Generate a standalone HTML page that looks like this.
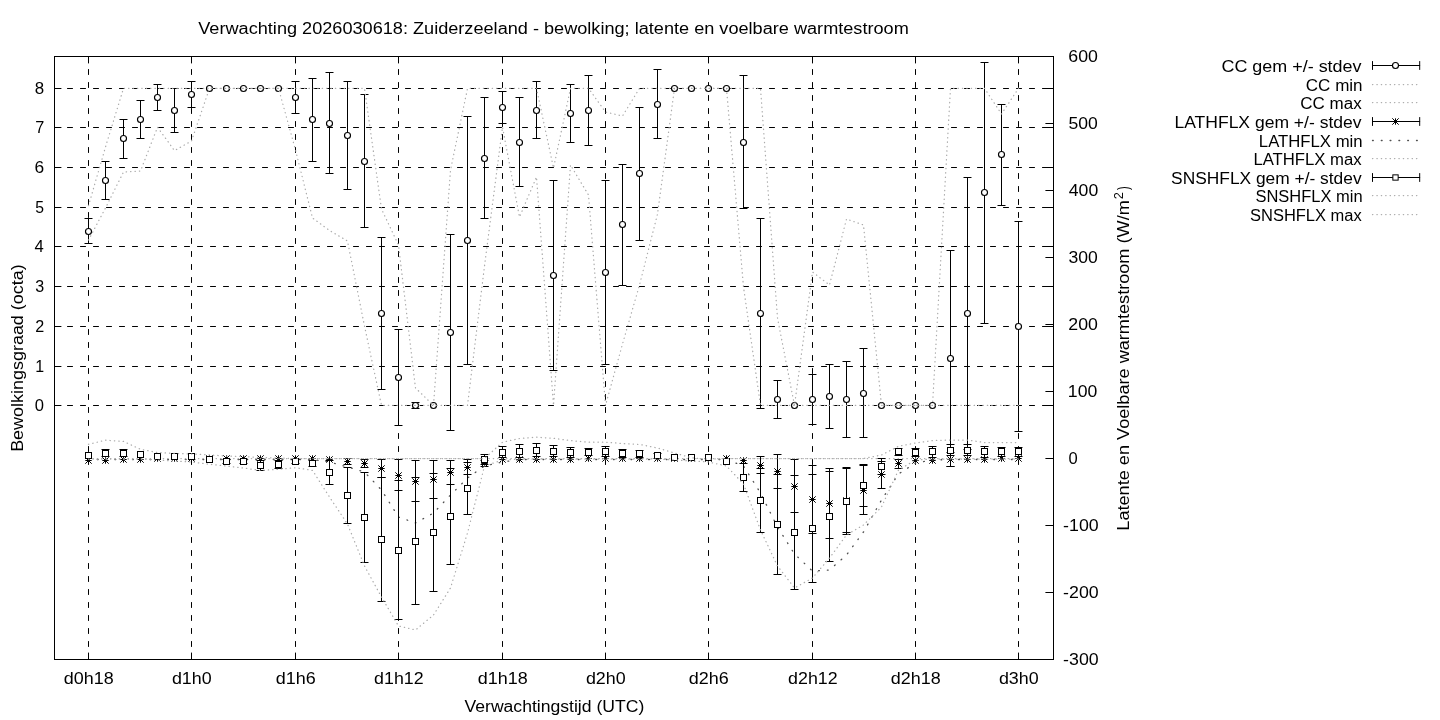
<!DOCTYPE html><html><head><meta charset="utf-8"><style>html,body{margin:0;padding:0;background:#fff;overflow:hidden}</style></head><body><svg width="1440" height="720" viewBox="0 0 1440 720" style="display:block;will-change:transform">
<rect width="1440" height="720" fill="#fff"/>
<path d="M54.5,405.50H1053.5M54.5,366.50H1053.5M54.5,326.50H1053.5M54.5,286.50H1053.5M54.5,246.50H1053.5M54.5,207.50H1053.5M54.5,167.50H1053.5M54.5,127.50H1053.5M54.5,88.50H1053.5" stroke="#000" stroke-width="1.0" fill="none" stroke-dasharray="5 8" stroke-linecap="round"/>
<path d="M88.50,56.5V659.5M191.50,56.5V659.5M295.50,56.5V659.5M398.50,56.5V659.5M502.50,56.5V659.5M605.50,56.5V659.5M708.50,56.5V659.5M812.50,56.5V659.5M915.50,56.5V659.5M1018.50,56.5V659.5" stroke="#000" stroke-width="1.0" fill="none" stroke-dasharray="5 8" stroke-linecap="round"/>
<path d="M54.5,405.50h6.5M1053.5,405.50h-6.5M54.5,366.50h6.5M1053.5,366.50h-6.5M54.5,326.50h6.5M1053.5,326.50h-6.5M54.5,286.50h6.5M1053.5,286.50h-6.5M54.5,246.50h6.5M1053.5,246.50h-6.5M54.5,207.50h6.5M1053.5,207.50h-6.5M54.5,167.50h6.5M1053.5,167.50h-6.5M54.5,127.50h6.5M1053.5,127.50h-6.5M54.5,88.50h6.5M1053.5,88.50h-6.5M88.50,659.5v-6.5M88.50,56.5v6.5M191.50,659.5v-6.5M191.50,56.5v6.5M295.50,659.5v-6.5M295.50,56.5v6.5M398.50,659.5v-6.5M398.50,56.5v6.5M502.50,659.5v-6.5M502.50,56.5v6.5M605.50,659.5v-6.5M605.50,56.5v6.5M708.50,659.5v-6.5M708.50,56.5v6.5M812.50,659.5v-6.5M812.50,56.5v6.5M915.50,659.5v-6.5M915.50,56.5v6.5M1018.50,659.5v-6.5M1018.50,56.5v6.5M1053.5,659.50h-7.7M1053.5,592.50h-7.7M1053.5,525.50h-7.7M1053.5,458.50h-7.7M1053.5,391.50h-7.7M1053.5,324.50h-7.7M1053.5,257.50h-7.7M1053.5,190.50h-7.7M1053.5,123.50h-7.7M1053.5,56.50h-7.7" stroke="#000" stroke-width="1.0" fill="none" stroke-linecap="round"/>
<path d="M88.50,218.50V243.50M84.90,218.50h7.2M84.90,243.50h7.2M105.50,161.50V199.50M101.90,161.50h7.2M101.90,199.50h7.2M123.50,119.50V158.50M119.90,119.50h7.2M119.90,158.50h7.2M140.50,100.50V138.50M136.90,100.50h7.2M136.90,138.50h7.2M157.50,84.50V110.50M153.90,84.50h7.2M153.90,110.50h7.2M174.50,88.50V132.50M170.90,88.50h7.2M170.90,132.50h7.2M191.50,81.50V107.50M187.90,81.50h7.2M187.90,107.50h7.2M295.50,81.50V113.50M291.90,81.50h7.2M291.90,113.50h7.2M312.50,78.50V161.50M308.90,78.50h7.2M308.90,161.50h7.2M329.50,72.50V173.50M325.90,72.50h7.2M325.90,173.50h7.2M347.50,81.50V189.50M343.90,81.50h7.2M343.90,189.50h7.2M364.50,94.50V227.50M360.90,94.50h7.2M360.90,227.50h7.2M381.50,237.50V389.50M377.90,237.50h7.2M377.90,389.50h7.2M398.50,329.50V425.50M394.90,329.50h7.2M394.90,425.50h7.2M415.50,402.50V408.50M411.90,402.50h7.2M411.90,408.50h7.2M450.50,234.50V430.50M446.90,234.50h7.2M446.90,430.50h7.2M467.50,116.50V364.50M463.90,116.50h7.2M463.90,364.50h7.2M484.50,97.50V218.50M480.90,97.50h7.2M480.90,218.50h7.2M502.50,91.50V123.50M498.90,91.50h7.2M498.90,123.50h7.2M519.50,97.50V186.50M515.90,97.50h7.2M515.90,186.50h7.2M536.50,81.50V138.50M532.90,81.50h7.2M532.90,138.50h7.2M553.50,180.50V370.50M549.90,180.50h7.2M549.90,370.50h7.2M570.50,84.50V142.50M566.90,84.50h7.2M566.90,142.50h7.2M588.50,75.50V145.50M584.90,75.50h7.2M584.90,145.50h7.2M605.50,180.50V364.50M601.90,180.50h7.2M601.90,364.50h7.2M622.50,164.50V285.50M618.90,164.50h7.2M618.90,285.50h7.2M639.50,107.50V240.50M635.90,107.50h7.2M635.90,240.50h7.2M657.50,69.50V138.50M653.90,69.50h7.2M653.90,138.50h7.2M743.50,75.50V208.50M739.90,75.50h7.2M739.90,208.50h7.2M760.50,218.50V408.50M756.90,218.50h7.2M756.90,408.50h7.2M777.50,380.50V418.50M773.90,380.50h7.2M773.90,418.50h7.2M812.50,374.50V424.50M808.90,374.50h7.2M808.90,424.50h7.2M829.50,364.50V428.50M825.90,364.50h7.2M825.90,428.50h7.2M846.50,361.50V437.50M842.90,361.50h7.2M842.90,437.50h7.2M863.50,348.50V437.50M859.90,348.50h7.2M859.90,437.50h7.2M950.50,250.50V466.50M946.90,250.50h7.2M946.90,466.50h7.2M967.50,177.50V449.50M963.90,177.50h7.2M963.90,449.50h7.2M984.50,62.50V323.50M980.90,62.50h7.2M980.90,323.50h7.2M1001.50,104.50V205.50M997.90,104.50h7.2M997.90,205.50h7.2M1018.50,221.50V431.50M1014.90,221.50h7.2M1014.90,431.50h7.2" stroke="#000" stroke-width="1.0" fill="none" stroke-linecap="round"/>
<g fill="#fff" stroke="#000" stroke-width="1.15"><circle cx="88.50" cy="231.50" r="3.0"/><circle cx="105.50" cy="180.50" r="3.0"/><circle cx="123.50" cy="138.50" r="3.0"/><circle cx="140.50" cy="119.50" r="3.0"/><circle cx="157.50" cy="97.50" r="3.0"/><circle cx="174.50" cy="110.50" r="3.0"/><circle cx="191.50" cy="94.50" r="3.0"/><circle cx="209.50" cy="88.50" r="3.0"/><circle cx="226.50" cy="88.50" r="3.0"/><circle cx="243.50" cy="88.50" r="3.0"/><circle cx="260.50" cy="88.50" r="3.0"/><circle cx="278.50" cy="88.50" r="3.0"/><circle cx="295.50" cy="97.50" r="3.0"/><circle cx="312.50" cy="119.50" r="3.0"/><circle cx="329.50" cy="123.50" r="3.0"/><circle cx="347.50" cy="135.50" r="3.0"/><circle cx="364.50" cy="161.50" r="3.0"/><circle cx="381.50" cy="313.50" r="3.0"/><circle cx="398.50" cy="377.50" r="3.0"/><circle cx="415.50" cy="405.50" r="3.0"/><circle cx="433.50" cy="405.50" r="3.0"/><circle cx="450.50" cy="332.50" r="3.0"/><circle cx="467.50" cy="240.50" r="3.0"/><circle cx="484.50" cy="158.50" r="3.0"/><circle cx="502.50" cy="107.50" r="3.0"/><circle cx="519.50" cy="142.50" r="3.0"/><circle cx="536.50" cy="110.50" r="3.0"/><circle cx="553.50" cy="275.50" r="3.0"/><circle cx="570.50" cy="113.50" r="3.0"/><circle cx="588.50" cy="110.50" r="3.0"/><circle cx="605.50" cy="272.50" r="3.0"/><circle cx="622.50" cy="224.50" r="3.0"/><circle cx="639.50" cy="173.50" r="3.0"/><circle cx="657.50" cy="104.50" r="3.0"/><circle cx="674.50" cy="88.50" r="3.0"/><circle cx="691.50" cy="88.50" r="3.0"/><circle cx="708.50" cy="88.50" r="3.0"/><circle cx="726.50" cy="88.50" r="3.0"/><circle cx="743.50" cy="142.50" r="3.0"/><circle cx="760.50" cy="313.50" r="3.0"/><circle cx="777.50" cy="399.50" r="3.0"/><circle cx="794.50" cy="405.50" r="3.0"/><circle cx="812.50" cy="399.50" r="3.0"/><circle cx="829.50" cy="396.50" r="3.0"/><circle cx="846.50" cy="399.50" r="3.0"/><circle cx="863.50" cy="393.50" r="3.0"/><circle cx="881.50" cy="405.50" r="3.0"/><circle cx="898.50" cy="405.50" r="3.0"/><circle cx="915.50" cy="405.50" r="3.0"/><circle cx="932.50" cy="405.50" r="3.0"/><circle cx="950.50" cy="358.50" r="3.0"/><circle cx="967.50" cy="313.50" r="3.0"/><circle cx="984.50" cy="192.50" r="3.0"/><circle cx="1001.50" cy="154.50" r="3.0"/><circle cx="1018.50" cy="326.50" r="3.0"/></g>
<polyline points="88.50,240.00 105.50,208.00 123.50,172.00 140.50,171.00 157.50,127.20 174.50,150.60 191.50,141.00 209.50,88.30 226.50,88.30 243.50,88.30 260.50,88.30 278.50,88.30 295.50,150.00 312.50,218.00 329.50,230.50 347.50,241.00 364.50,326.00 381.50,405.40 398.50,405.40 415.50,405.40 433.50,405.40 450.50,405.40 467.50,405.40 484.50,266.00 502.50,127.00 519.50,217.00 536.50,177.00 553.50,405.40 570.50,165.00 588.50,195.00 605.50,405.40 622.50,344.00 639.50,285.00 657.50,214.00 674.50,88.30 691.50,88.30 708.50,88.30 726.50,88.30 743.50,287.00 760.50,405.40 777.50,405.40 794.50,405.40 812.50,405.40 829.50,405.40 846.50,405.40 863.50,405.40 881.50,405.40 898.50,405.40 915.50,405.40 932.50,405.40 950.50,405.40 967.50,405.40 984.50,405.40 1001.50,405.40 1018.50,405.40" fill="none" stroke="#aaaaaa" stroke-width="1.25" stroke-dasharray="0.35 4.05" stroke-linecap="round" stroke-linejoin="round"/>
<polyline points="88.50,205.70 105.50,147.00 123.50,88.30 140.50,88.30 157.50,88.30 174.50,88.30 191.50,88.30 209.50,88.30 226.50,88.30 243.50,88.30 260.50,88.30 278.50,88.30 295.50,88.30 312.50,88.30 329.50,88.30 347.50,88.30 364.50,88.30 381.50,209.00 398.50,245.00 415.50,388.00 433.50,405.40 450.50,170.00 467.50,88.30 484.50,88.30 502.50,88.30 519.50,88.30 536.50,88.30 553.50,168.00 570.50,88.30 588.50,88.30 605.50,112.00 622.50,116.00 639.50,88.30 657.50,88.30 674.50,88.30 691.50,88.30 708.50,88.30 726.50,88.30 743.50,88.30 760.50,88.30 777.50,318.00 794.50,405.40 812.50,272.00 829.50,285.00 846.50,219.00 863.50,225.00 881.50,405.40 898.50,405.40 915.50,405.40 932.50,405.40 950.50,88.30 967.50,88.30 984.50,88.30 1001.50,114.00 1018.50,88.30" fill="none" stroke="#aaaaaa" stroke-width="1.25" stroke-dasharray="0.35 4.05" stroke-linecap="round" stroke-linejoin="round"/>
<path d="M347.50,458.50V464.50M343.90,458.50h7.2M343.90,464.50h7.2M364.50,459.50V467.50M360.90,459.50h7.2M360.90,467.50h7.2M381.50,459.50V477.50M377.90,459.50h7.2M377.90,477.50h7.2M398.50,459.50V490.50M394.90,459.50h7.2M394.90,490.50h7.2M415.50,460.50V501.50M411.90,460.50h7.2M411.90,501.50h7.2M433.50,460.50V498.50M429.90,460.50h7.2M429.90,498.50h7.2M450.50,460.50V484.50M446.90,460.50h7.2M446.90,484.50h7.2M467.50,459.50V474.50M463.90,459.50h7.2M463.90,474.50h7.2M484.50,460.50V466.50M480.90,460.50h7.2M480.90,466.50h7.2M760.50,456.50V473.50M756.90,456.50h7.2M756.90,473.50h7.2M777.50,454.50V488.50M773.90,454.50h7.2M773.90,488.50h7.2M794.50,459.50V512.50M790.90,459.50h7.2M790.90,512.50h7.2M812.50,465.50V533.50M808.90,465.50h7.2M808.90,533.50h7.2M829.50,468.50V538.50M825.90,468.50h7.2M825.90,538.50h7.2M846.50,468.50V532.50M842.90,468.50h7.2M842.90,532.50h7.2M863.50,465.50V514.50M859.90,465.50h7.2M859.90,514.50h7.2M881.50,461.50V488.50M877.90,461.50h7.2M877.90,488.50h7.2M898.50,459.50V468.50M894.90,459.50h7.2M894.90,468.50h7.2M950.50,452.50V466.50M946.90,452.50h7.2M946.90,466.50h7.2" stroke="#000" stroke-width="1.0" fill="none" stroke-linecap="round"/>
<path d="M85.30,460.50h6.4M88.50,457.30v6.4M85.30,457.30l6.4,6.4M85.30,463.70l6.4,-6.4M102.30,460.50h6.4M105.50,457.30v6.4M102.30,457.30l6.4,6.4M102.30,463.70l6.4,-6.4M120.30,459.50h6.4M123.50,456.30v6.4M120.30,456.30l6.4,6.4M120.30,462.70l6.4,-6.4M137.30,459.50h6.4M140.50,456.30v6.4M137.30,456.30l6.4,6.4M137.30,462.70l6.4,-6.4M154.30,458.50h6.4M157.50,455.30v6.4M154.30,455.30l6.4,6.4M154.30,461.70l6.4,-6.4M171.30,458.50h6.4M174.50,455.30v6.4M171.30,455.30l6.4,6.4M171.30,461.70l6.4,-6.4M188.30,458.50h6.4M191.50,455.30v6.4M188.30,455.30l6.4,6.4M188.30,461.70l6.4,-6.4M206.30,458.50h6.4M209.50,455.30v6.4M206.30,455.30l6.4,6.4M206.30,461.70l6.4,-6.4M223.30,458.50h6.4M226.50,455.30v6.4M223.30,455.30l6.4,6.4M223.30,461.70l6.4,-6.4M240.30,458.50h6.4M243.50,455.30v6.4M240.30,455.30l6.4,6.4M240.30,461.70l6.4,-6.4M257.30,458.50h6.4M260.50,455.30v6.4M257.30,455.30l6.4,6.4M257.30,461.70l6.4,-6.4M275.30,458.50h6.4M278.50,455.30v6.4M275.30,455.30l6.4,6.4M275.30,461.70l6.4,-6.4M292.30,458.50h6.4M295.50,455.30v6.4M292.30,455.30l6.4,6.4M292.30,461.70l6.4,-6.4M309.30,458.50h6.4M312.50,455.30v6.4M309.30,455.30l6.4,6.4M309.30,461.70l6.4,-6.4M326.30,459.50h6.4M329.50,456.30v6.4M326.30,456.30l6.4,6.4M326.30,462.70l6.4,-6.4M344.30,461.50h6.4M347.50,458.30v6.4M344.30,458.30l6.4,6.4M344.30,464.70l6.4,-6.4M361.30,463.50h6.4M364.50,460.30v6.4M361.30,460.30l6.4,6.4M361.30,466.70l6.4,-6.4M378.30,468.50h6.4M381.50,465.30v6.4M378.30,465.30l6.4,6.4M378.30,471.70l6.4,-6.4M395.30,475.50h6.4M398.50,472.30v6.4M395.30,472.30l6.4,6.4M395.30,478.70l6.4,-6.4M412.30,481.50h6.4M415.50,478.30v6.4M412.30,478.30l6.4,6.4M412.30,484.70l6.4,-6.4M430.30,479.50h6.4M433.50,476.30v6.4M430.30,476.30l6.4,6.4M430.30,482.70l6.4,-6.4M447.30,472.50h6.4M450.50,469.30v6.4M447.30,469.30l6.4,6.4M447.30,475.70l6.4,-6.4M464.30,467.50h6.4M467.50,464.30v6.4M464.30,464.30l6.4,6.4M464.30,470.70l6.4,-6.4M481.30,463.50h6.4M484.50,460.30v6.4M481.30,460.30l6.4,6.4M481.30,466.70l6.4,-6.4M499.30,459.50h6.4M502.50,456.30v6.4M499.30,456.30l6.4,6.4M499.30,462.70l6.4,-6.4M516.30,459.50h6.4M519.50,456.30v6.4M516.30,456.30l6.4,6.4M516.30,462.70l6.4,-6.4M533.30,459.50h6.4M536.50,456.30v6.4M533.30,456.30l6.4,6.4M533.30,462.70l6.4,-6.4M550.30,459.50h6.4M553.50,456.30v6.4M550.30,456.30l6.4,6.4M550.30,462.70l6.4,-6.4M567.30,459.50h6.4M570.50,456.30v6.4M567.30,456.30l6.4,6.4M567.30,462.70l6.4,-6.4M585.30,458.50h6.4M588.50,455.30v6.4M585.30,455.30l6.4,6.4M585.30,461.70l6.4,-6.4M602.30,458.50h6.4M605.50,455.30v6.4M602.30,455.30l6.4,6.4M602.30,461.70l6.4,-6.4M619.30,458.50h6.4M622.50,455.30v6.4M619.30,455.30l6.4,6.4M619.30,461.70l6.4,-6.4M636.30,458.50h6.4M639.50,455.30v6.4M636.30,455.30l6.4,6.4M636.30,461.70l6.4,-6.4M654.30,458.50h6.4M657.50,455.30v6.4M654.30,455.30l6.4,6.4M654.30,461.70l6.4,-6.4M671.30,458.50h6.4M674.50,455.30v6.4M671.30,455.30l6.4,6.4M671.30,461.70l6.4,-6.4M688.30,458.50h6.4M691.50,455.30v6.4M688.30,455.30l6.4,6.4M688.30,461.70l6.4,-6.4M705.30,458.50h6.4M708.50,455.30v6.4M705.30,455.30l6.4,6.4M705.30,461.70l6.4,-6.4M723.30,458.50h6.4M726.50,455.30v6.4M723.30,455.30l6.4,6.4M723.30,461.70l6.4,-6.4M740.30,460.50h6.4M743.50,457.30v6.4M740.30,457.30l6.4,6.4M740.30,463.70l6.4,-6.4M757.30,465.50h6.4M760.50,462.30v6.4M757.30,462.30l6.4,6.4M757.30,468.70l6.4,-6.4M774.30,471.50h6.4M777.50,468.30v6.4M774.30,468.30l6.4,6.4M774.30,474.70l6.4,-6.4M791.30,486.50h6.4M794.50,483.30v6.4M791.30,483.30l6.4,6.4M791.30,489.70l6.4,-6.4M809.30,499.50h6.4M812.50,496.30v6.4M809.30,496.30l6.4,6.4M809.30,502.70l6.4,-6.4M826.30,503.50h6.4M829.50,500.30v6.4M826.30,500.30l6.4,6.4M826.30,506.70l6.4,-6.4M843.30,500.50h6.4M846.50,497.30v6.4M843.30,497.30l6.4,6.4M843.30,503.70l6.4,-6.4M860.30,490.50h6.4M863.50,487.30v6.4M860.30,487.30l6.4,6.4M860.30,493.70l6.4,-6.4M878.30,474.50h6.4M881.50,471.30v6.4M878.30,471.30l6.4,6.4M878.30,477.70l6.4,-6.4M895.30,463.50h6.4M898.50,460.30v6.4M895.30,460.30l6.4,6.4M895.30,466.70l6.4,-6.4M912.30,460.50h6.4M915.50,457.30v6.4M912.30,457.30l6.4,6.4M912.30,463.70l6.4,-6.4M929.30,460.50h6.4M932.50,457.30v6.4M929.30,457.30l6.4,6.4M929.30,463.70l6.4,-6.4M947.30,459.50h6.4M950.50,456.30v6.4M947.30,456.30l6.4,6.4M947.30,462.70l6.4,-6.4M964.30,459.50h6.4M967.50,456.30v6.4M964.30,456.30l6.4,6.4M964.30,462.70l6.4,-6.4M981.30,459.50h6.4M984.50,456.30v6.4M981.30,456.30l6.4,6.4M981.30,462.70l6.4,-6.4M998.30,458.50h6.4M1001.50,455.30v6.4M998.30,455.30l6.4,6.4M998.30,461.70l6.4,-6.4M1015.30,458.50h6.4M1018.50,455.30v6.4M1015.30,455.30l6.4,6.4M1015.30,461.70l6.4,-6.4" stroke="#000" stroke-width="1.0" fill="none"/>
<polyline points="88.50,459.50 105.50,459.50 123.50,459.50 140.50,459.50 157.50,459.50 174.50,459.50 191.50,459.50 209.50,459.50 226.50,459.50 243.50,459.50 260.50,459.50 278.50,459.50 295.50,459.50 312.50,459.50 329.50,462.00 347.50,467.00 364.50,472.00 381.50,490.00 398.50,517.00 415.50,523.00 433.50,513.00 450.50,495.00 467.50,478.00 484.50,466.00 502.50,462.00 519.50,459.50 536.50,459.50 553.50,459.50 570.50,459.50 588.50,459.50 605.50,459.50 622.50,459.50 639.50,459.50 657.50,459.50 674.50,459.50 691.50,459.50 708.50,459.50 726.50,459.50 743.50,466.00 760.50,493.00 777.50,527.00 794.50,554.00 812.50,571.00 829.50,570.00 846.50,555.00 863.50,532.00 881.50,500.00 898.50,474.00 915.50,463.00 932.50,460.00 950.50,459.50 967.50,459.50 984.50,459.50 1001.50,459.50 1018.50,459.50" fill="none" stroke="#505050" stroke-width="1.3" stroke-dasharray="0.8 8" stroke-linecap="round" stroke-linejoin="round"/>
<polyline points="88.50,458.60 105.50,458.60 123.50,458.60 140.50,458.60 157.50,458.60 174.50,458.60 191.50,458.60 209.50,458.60 226.50,458.60 243.50,458.60 260.50,458.60 278.50,458.60 295.50,458.60 312.50,458.60 329.50,458.60 347.50,458.60 364.50,458.60 381.50,458.60 398.50,458.60 415.50,458.60 433.50,458.60 450.50,458.60 467.50,458.60 484.50,458.60 502.50,458.60 519.50,458.60 536.50,458.60 553.50,458.60 570.50,458.60 588.50,458.60 605.50,458.60 622.50,458.60 639.50,458.60 657.50,458.60 674.50,458.60 691.50,458.60 708.50,458.60 726.50,458.60 743.50,458.60 760.50,458.60 777.50,458.60 794.50,458.60 812.50,458.60 829.50,458.60 846.50,458.60 863.50,458.60 881.50,458.60 898.50,458.60 915.50,458.60 932.50,458.60 950.50,458.60 967.50,458.60 984.50,458.60 1001.50,458.60 1018.50,458.60" fill="none" stroke="#aaaaaa" stroke-width="1.25" stroke-dasharray="0.35 4.05" stroke-linecap="round" stroke-linejoin="round"/>
<path d="M105.50,449.50V456.50M101.90,449.50h7.2M101.90,456.50h7.2M123.50,449.50V456.50M119.90,449.50h7.2M119.90,456.50h7.2M226.50,459.50V463.50M222.90,459.50h7.2M222.90,463.50h7.2M243.50,459.50V463.50M239.90,459.50h7.2M239.90,463.50h7.2M260.50,460.50V470.50M256.90,460.50h7.2M256.90,470.50h7.2M278.50,460.50V468.50M274.90,460.50h7.2M274.90,468.50h7.2M295.50,459.50V463.50M291.90,459.50h7.2M291.90,463.50h7.2M312.50,460.50V466.50M308.90,460.50h7.2M308.90,466.50h7.2M329.50,460.50V484.50M325.90,460.50h7.2M325.90,484.50h7.2M347.50,467.50V523.50M343.90,467.50h7.2M343.90,523.50h7.2M364.50,472.50V562.50M360.90,472.50h7.2M360.90,562.50h7.2M381.50,477.50V601.50M377.90,477.50h7.2M377.90,601.50h7.2M398.50,480.50V619.50M394.90,480.50h7.2M394.90,619.50h7.2M415.50,477.50V604.50M411.90,477.50h7.2M411.90,604.50h7.2M433.50,473.50V591.50M429.90,473.50h7.2M429.90,591.50h7.2M450.50,468.50V564.50M446.90,468.50h7.2M446.90,564.50h7.2M467.50,462.50V514.50M463.90,462.50h7.2M463.90,514.50h7.2M484.50,454.50V464.50M480.90,454.50h7.2M480.90,464.50h7.2M502.50,446.50V457.50M498.90,446.50h7.2M498.90,457.50h7.2M519.50,444.50V457.50M515.90,444.50h7.2M515.90,457.50h7.2M536.50,443.50V456.50M532.90,443.50h7.2M532.90,456.50h7.2M553.50,445.50V456.50M549.90,445.50h7.2M549.90,456.50h7.2M570.50,447.50V457.50M566.90,447.50h7.2M566.90,457.50h7.2M588.50,448.50V455.50M584.90,448.50h7.2M584.90,455.50h7.2M605.50,446.50V456.50M601.90,446.50h7.2M601.90,456.50h7.2M622.50,449.50V457.50M618.90,449.50h7.2M618.90,457.50h7.2M639.50,450.50V457.50M635.90,450.50h7.2M635.90,457.50h7.2M657.50,453.50V458.50M653.90,453.50h7.2M653.90,458.50h7.2M743.50,463.50V491.50M739.90,463.50h7.2M739.90,491.50h7.2M760.50,468.50V532.50M756.90,468.50h7.2M756.90,532.50h7.2M777.50,474.50V574.50M773.90,474.50h7.2M773.90,574.50h7.2M794.50,475.50V589.50M790.90,475.50h7.2M790.90,589.50h7.2M812.50,474.50V582.50M808.90,474.50h7.2M808.90,582.50h7.2M829.50,471.50V561.50M825.90,471.50h7.2M825.90,561.50h7.2M846.50,467.50V534.50M842.90,467.50h7.2M842.90,534.50h7.2M863.50,464.50V506.50M859.90,464.50h7.2M859.90,506.50h7.2M881.50,458.50V474.50M877.90,458.50h7.2M877.90,474.50h7.2M898.50,448.50V455.50M894.90,448.50h7.2M894.90,455.50h7.2M915.50,448.50V456.50M911.90,448.50h7.2M911.90,456.50h7.2M932.50,446.50V457.50M928.90,446.50h7.2M928.90,457.50h7.2M950.50,444.50V455.50M946.90,444.50h7.2M946.90,455.50h7.2M967.50,444.50V455.50M963.90,444.50h7.2M963.90,455.50h7.2M984.50,446.50V457.50M980.90,446.50h7.2M980.90,457.50h7.2M1001.50,447.50V456.50M997.90,447.50h7.2M997.90,456.50h7.2M1018.50,447.50V456.50M1014.90,447.50h7.2M1014.90,456.50h7.2" stroke="#000" stroke-width="1.0" fill="none" stroke-linecap="round"/>
<g fill="#fff" stroke="#000" stroke-width="1.0"><rect x="85.50" y="452.50" width="6" height="6"/><rect x="102.50" y="450.50" width="6" height="6"/><rect x="120.50" y="450.50" width="6" height="6"/><rect x="137.50" y="451.50" width="6" height="6"/><rect x="154.50" y="453.50" width="6" height="6"/><rect x="171.50" y="453.50" width="6" height="6"/><rect x="188.50" y="453.50" width="6" height="6"/><rect x="206.50" y="456.50" width="6" height="6"/><rect x="223.50" y="458.50" width="6" height="6"/><rect x="240.50" y="458.50" width="6" height="6"/><rect x="257.50" y="462.50" width="6" height="6"/><rect x="275.50" y="461.50" width="6" height="6"/><rect x="292.50" y="458.50" width="6" height="6"/><rect x="309.50" y="460.50" width="6" height="6"/><rect x="326.50" y="469.50" width="6" height="6"/><rect x="344.50" y="492.50" width="6" height="6"/><rect x="361.50" y="514.50" width="6" height="6"/><rect x="378.50" y="536.50" width="6" height="6"/><rect x="395.50" y="547.50" width="6" height="6"/><rect x="412.50" y="538.50" width="6" height="6"/><rect x="430.50" y="529.50" width="6" height="6"/><rect x="447.50" y="513.50" width="6" height="6"/><rect x="464.50" y="485.50" width="6" height="6"/><rect x="481.50" y="456.50" width="6" height="6"/><rect x="499.50" y="449.50" width="6" height="6"/><rect x="516.50" y="448.50" width="6" height="6"/><rect x="533.50" y="447.50" width="6" height="6"/><rect x="550.50" y="448.50" width="6" height="6"/><rect x="567.50" y="449.50" width="6" height="6"/><rect x="585.50" y="449.50" width="6" height="6"/><rect x="602.50" y="448.50" width="6" height="6"/><rect x="619.50" y="450.50" width="6" height="6"/><rect x="636.50" y="450.50" width="6" height="6"/><rect x="654.50" y="452.50" width="6" height="6"/><rect x="671.50" y="454.50" width="6" height="6"/><rect x="688.50" y="454.50" width="6" height="6"/><rect x="705.50" y="454.50" width="6" height="6"/><rect x="723.50" y="458.50" width="6" height="6"/><rect x="740.50" y="474.50" width="6" height="6"/><rect x="757.50" y="497.50" width="6" height="6"/><rect x="774.50" y="521.50" width="6" height="6"/><rect x="791.50" y="529.50" width="6" height="6"/><rect x="809.50" y="525.50" width="6" height="6"/><rect x="826.50" y="513.50" width="6" height="6"/><rect x="843.50" y="498.50" width="6" height="6"/><rect x="860.50" y="482.50" width="6" height="6"/><rect x="878.50" y="463.50" width="6" height="6"/><rect x="895.50" y="448.50" width="6" height="6"/><rect x="912.50" y="449.50" width="6" height="6"/><rect x="929.50" y="448.50" width="6" height="6"/><rect x="947.50" y="447.50" width="6" height="6"/><rect x="964.50" y="447.50" width="6" height="6"/><rect x="981.50" y="448.50" width="6" height="6"/><rect x="998.50" y="448.50" width="6" height="6"/><rect x="1015.50" y="448.50" width="6" height="6"/></g>
<polyline points="88.50,459.00 105.50,459.00 123.50,459.00 140.50,459.00 157.50,460.00 174.50,461.00 191.50,462.00 209.50,464.30 226.50,466.00 243.50,468.00 260.50,470.40 278.50,469.30 295.50,467.70 312.50,470.40 329.50,497.00 347.50,524.00 364.50,566.00 381.50,597.00 398.50,626.00 415.50,630.00 433.50,615.00 450.50,588.00 467.50,533.00 484.50,466.00 502.50,460.00 519.50,459.00 536.50,459.00 553.50,459.00 570.50,459.00 588.50,459.00 605.50,459.00 622.50,459.00 639.50,459.00 657.50,459.00 674.50,460.00 691.50,461.00 708.50,462.00 726.50,466.00 743.50,484.00 760.50,530.00 777.50,566.00 794.50,588.00 812.50,578.00 829.50,558.00 846.50,535.00 863.50,525.00 881.50,507.00 898.50,470.00 915.50,460.00 932.50,459.00 950.50,459.00 967.50,459.00 984.50,459.00 1001.50,459.00 1018.50,459.00" fill="none" stroke="#aaaaaa" stroke-width="1.25" stroke-dasharray="0.35 4.05" stroke-linecap="round" stroke-linejoin="round"/>
<polyline points="88.50,444.30 105.50,440.20 123.50,441.40 140.50,449.30 157.50,452.50 174.50,453.50 191.50,453.90 209.50,455.00 226.50,456.00 243.50,456.50 260.50,457.50 278.50,458.00 295.50,458.50 312.50,458.50 329.50,458.50 347.50,458.50 364.50,458.50 381.50,458.50 398.50,458.50 415.50,458.50 433.50,458.50 450.50,458.50 467.50,458.50 484.50,458.50 502.50,442.20 519.50,438.50 536.50,437.20 553.50,438.30 570.50,440.60 588.50,442.20 605.50,442.20 622.50,443.50 639.50,444.40 657.50,448.00 674.50,453.00 691.50,457.80 708.50,459.20 726.50,458.50 743.50,458.50 760.50,458.50 777.50,458.50 794.50,458.50 812.50,458.50 829.50,458.50 846.50,458.50 863.50,458.50 881.50,455.00 898.50,446.30 915.50,443.00 932.50,440.60 950.50,440.00 967.50,440.00 984.50,442.50 1001.50,442.50 1018.50,442.50" fill="none" stroke="#aaaaaa" stroke-width="1.25" stroke-dasharray="0.35 4.05" stroke-linecap="round" stroke-linejoin="round"/>
<rect x="54.5" y="56.5" width="999.0" height="603.0" fill="none" stroke="#000" stroke-width="1.0"/>
<text x="198.29" y="34.30" textLength="710.50" lengthAdjust="spacingAndGlyphs" font-family="Liberation Sans, sans-serif" font-size="16.0" fill="#000" >Verwachting 2026030618: Zuiderzeeland - bewolking; latente en voelbare warmtestroom</text>
<text x="34.80" y="411.30" textLength="9.22" lengthAdjust="spacingAndGlyphs" font-family="Liberation Sans, sans-serif" font-size="16.0" fill="#000" >0</text>
<text x="35.32" y="372.30" textLength="8.88" lengthAdjust="spacingAndGlyphs" font-family="Liberation Sans, sans-serif" font-size="16.0" fill="#000" >1</text>
<text x="35.21" y="332.30" textLength="9.00" lengthAdjust="spacingAndGlyphs" font-family="Liberation Sans, sans-serif" font-size="16.0" fill="#000" >2</text>
<text x="35.17" y="292.30" textLength="8.93" lengthAdjust="spacingAndGlyphs" font-family="Liberation Sans, sans-serif" font-size="16.0" fill="#000" >3</text>
<text x="34.62" y="252.30" textLength="9.25" lengthAdjust="spacingAndGlyphs" font-family="Liberation Sans, sans-serif" font-size="16.0" fill="#000" >4</text>
<text x="35.28" y="213.30" textLength="8.76" lengthAdjust="spacingAndGlyphs" font-family="Liberation Sans, sans-serif" font-size="16.0" fill="#000" >5</text>
<text x="34.51" y="173.30" textLength="9.65" lengthAdjust="spacingAndGlyphs" font-family="Liberation Sans, sans-serif" font-size="16.0" fill="#000" >6</text>
<text x="35.16" y="133.30" textLength="9.06" lengthAdjust="spacingAndGlyphs" font-family="Liberation Sans, sans-serif" font-size="16.0" fill="#000" >7</text>
<text x="34.74" y="94.30" textLength="9.40" lengthAdjust="spacingAndGlyphs" font-family="Liberation Sans, sans-serif" font-size="16.0" fill="#000" >8</text>
<text x="63.88" y="684.30" textLength="49.90" lengthAdjust="spacingAndGlyphs" font-family="Liberation Sans, sans-serif" font-size="16.0" fill="#000" >d0h18</text>
<text x="171.91" y="684.30" textLength="39.73" lengthAdjust="spacingAndGlyphs" font-family="Liberation Sans, sans-serif" font-size="16.0" fill="#000" >d1h0</text>
<text x="275.85" y="684.30" textLength="39.94" lengthAdjust="spacingAndGlyphs" font-family="Liberation Sans, sans-serif" font-size="16.0" fill="#000" >d1h6</text>
<text x="374.13" y="684.30" textLength="49.50" lengthAdjust="spacingAndGlyphs" font-family="Liberation Sans, sans-serif" font-size="16.0" fill="#000" >d1h12</text>
<text x="477.88" y="684.30" textLength="49.90" lengthAdjust="spacingAndGlyphs" font-family="Liberation Sans, sans-serif" font-size="16.0" fill="#000" >d1h18</text>
<text x="585.91" y="684.30" textLength="39.73" lengthAdjust="spacingAndGlyphs" font-family="Liberation Sans, sans-serif" font-size="16.0" fill="#000" >d2h0</text>
<text x="688.85" y="684.30" textLength="39.94" lengthAdjust="spacingAndGlyphs" font-family="Liberation Sans, sans-serif" font-size="16.0" fill="#000" >d2h6</text>
<text x="788.13" y="684.30" textLength="49.50" lengthAdjust="spacingAndGlyphs" font-family="Liberation Sans, sans-serif" font-size="16.0" fill="#000" >d2h12</text>
<text x="890.88" y="684.30" textLength="49.90" lengthAdjust="spacingAndGlyphs" font-family="Liberation Sans, sans-serif" font-size="16.0" fill="#000" >d2h18</text>
<text x="998.91" y="684.30" textLength="39.73" lengthAdjust="spacingAndGlyphs" font-family="Liberation Sans, sans-serif" font-size="16.0" fill="#000" >d3h0</text>
<text x="1063.12" y="665.30" textLength="35.54" lengthAdjust="spacingAndGlyphs" font-family="Liberation Sans, sans-serif" font-size="16.0" fill="#000" >-300</text>
<text x="1063.12" y="598.30" textLength="35.54" lengthAdjust="spacingAndGlyphs" font-family="Liberation Sans, sans-serif" font-size="16.0" fill="#000" >-200</text>
<text x="1063.12" y="531.30" textLength="35.54" lengthAdjust="spacingAndGlyphs" font-family="Liberation Sans, sans-serif" font-size="16.0" fill="#000" >-100</text>
<text x="1068.58" y="464.30" textLength="9.22" lengthAdjust="spacingAndGlyphs" font-family="Liberation Sans, sans-serif" font-size="16.0" fill="#000" >0</text>
<text x="1067.88" y="397.30" textLength="29.42" lengthAdjust="spacingAndGlyphs" font-family="Liberation Sans, sans-serif" font-size="16.0" fill="#000" >100</text>
<text x="1068.31" y="330.30" textLength="29.58" lengthAdjust="spacingAndGlyphs" font-family="Liberation Sans, sans-serif" font-size="16.0" fill="#000" >200</text>
<text x="1068.54" y="263.30" textLength="29.30" lengthAdjust="spacingAndGlyphs" font-family="Liberation Sans, sans-serif" font-size="16.0" fill="#000" >300</text>
<text x="1068.81" y="196.30" textLength="29.42" lengthAdjust="spacingAndGlyphs" font-family="Liberation Sans, sans-serif" font-size="16.0" fill="#000" >400</text>
<text x="1068.49" y="129.30" textLength="29.30" lengthAdjust="spacingAndGlyphs" font-family="Liberation Sans, sans-serif" font-size="16.0" fill="#000" >500</text>
<text x="1068.31" y="62.30" textLength="29.63" lengthAdjust="spacingAndGlyphs" font-family="Liberation Sans, sans-serif" font-size="16.0" fill="#000" >600</text>
<text x="464.49" y="712.10" textLength="179.81" lengthAdjust="spacingAndGlyphs" font-family="Liberation Sans, sans-serif" font-size="16.0" fill="#000" >Verwachtingstijd (UTC)</text>
<g transform="translate(22.9,0) rotate(-90)"><text x="-451.86" y="0.00" textLength="187.58" lengthAdjust="spacingAndGlyphs" font-family="Liberation Sans, sans-serif" font-size="16.0" fill="#000" >Bewolkingsgraad (octa)</text></g>
<g transform="translate(1128.9,0) rotate(-90)"><text x="-530.67" y="0.00" textLength="330.44" lengthAdjust="spacingAndGlyphs" font-family="Liberation Sans, sans-serif" font-size="16.0" fill="#000" >Latente en Voelbare warmtestroom (W/m</text><text x="-199.34" y="-5.90" textLength="7.07" lengthAdjust="spacingAndGlyphs" font-family="Liberation Sans, sans-serif" font-size="12.8" fill="#000" >2</text><text x="-190.07" y="0.00" textLength="3.70" lengthAdjust="spacingAndGlyphs" font-family="Liberation Sans, sans-serif" font-size="16.0" fill="#000" >)</text></g>
<text x="1221.47" y="71.70" textLength="140.06" lengthAdjust="spacingAndGlyphs" font-family="Liberation Sans, sans-serif" font-size="16.0" fill="#000" >CC gem +/- stdev</text>
<path d="M1372.5,65.50H1419.7M1372.5,61.50v8M1419.7,61.50v8" stroke="#000" stroke-width="1.0" fill="none" stroke-linecap="round"/>
<circle cx="1395.5" cy="65.50" r="3" fill="#fff" stroke="#000" stroke-width="1.15"/>
<text x="1305.82" y="90.70" textLength="56.79" lengthAdjust="spacingAndGlyphs" font-family="Liberation Sans, sans-serif" font-size="16.0" fill="#000" >CC min</text>
<path d="M1372.5,84.50H1419.7" stroke="#aaaaaa" stroke-width="1.25" stroke-dasharray="0.35 4.05" stroke-linecap="round" fill="none"/>
<text x="1300.37" y="108.70" textLength="61.32" lengthAdjust="spacingAndGlyphs" font-family="Liberation Sans, sans-serif" font-size="16.0" fill="#000" >CC max</text>
<path d="M1372.5,102.50H1419.7" stroke="#aaaaaa" stroke-width="1.25" stroke-dasharray="0.35 4.05" stroke-linecap="round" fill="none"/>
<text x="1174.48" y="127.70" textLength="187.04" lengthAdjust="spacingAndGlyphs" font-family="Liberation Sans, sans-serif" font-size="16.0" fill="#000" >LATHFLX gem +/- stdev</text>
<path d="M1372.5,121.50H1419.7M1372.5,117.50v8M1419.7,117.50v8" stroke="#000" stroke-width="1.0" fill="none" stroke-linecap="round"/>
<path d="M1392.3,121.50h6.4M1395.5,118.30v6.4M1392.3,118.30l6.4,6.4M1392.3,124.70l6.4,-6.4" stroke="#000" stroke-width="1.0" fill="none"/>
<text x="1258.85" y="146.70" textLength="103.73" lengthAdjust="spacingAndGlyphs" font-family="Liberation Sans, sans-serif" font-size="16.0" fill="#000" >LATHFLX min</text>
<path d="M1372.5,140.50H1419.7" stroke="#505050" stroke-width="1.3" stroke-dasharray="0.8 8" stroke-linecap="round" fill="none"/>
<text x="1253.40" y="164.70" textLength="108.28" lengthAdjust="spacingAndGlyphs" font-family="Liberation Sans, sans-serif" font-size="16.0" fill="#000" >LATHFLX max</text>
<path d="M1372.5,158.50H1419.7" stroke="#aaaaaa" stroke-width="1.25" stroke-dasharray="0.35 4.05" stroke-linecap="round" fill="none"/>
<text x="1171.13" y="183.70" textLength="190.44" lengthAdjust="spacingAndGlyphs" font-family="Liberation Sans, sans-serif" font-size="16.0" fill="#000" >SNSHFLX gem +/- stdev</text>
<path d="M1372.5,177.50H1419.7M1372.5,173.50v8M1419.7,173.50v8" stroke="#000" stroke-width="1.0" fill="none" stroke-linecap="round"/>
<rect x="1392.85" y="174.85" width="5.3" height="5.3" fill="#fff" stroke="#000" stroke-width="1.0"/>
<text x="1255.47" y="201.70" textLength="107.08" lengthAdjust="spacingAndGlyphs" font-family="Liberation Sans, sans-serif" font-size="16.0" fill="#000" >SNSHFLX min</text>
<path d="M1372.5,195.50H1419.7" stroke="#aaaaaa" stroke-width="1.25" stroke-dasharray="0.35 4.05" stroke-linecap="round" fill="none"/>
<text x="1250.03" y="220.70" textLength="111.70" lengthAdjust="spacingAndGlyphs" font-family="Liberation Sans, sans-serif" font-size="16.0" fill="#000" >SNSHFLX max</text>
<path d="M1372.5,214.50H1419.7" stroke="#aaaaaa" stroke-width="1.25" stroke-dasharray="0.35 4.05" stroke-linecap="round" fill="none"/>
</svg></body></html>
